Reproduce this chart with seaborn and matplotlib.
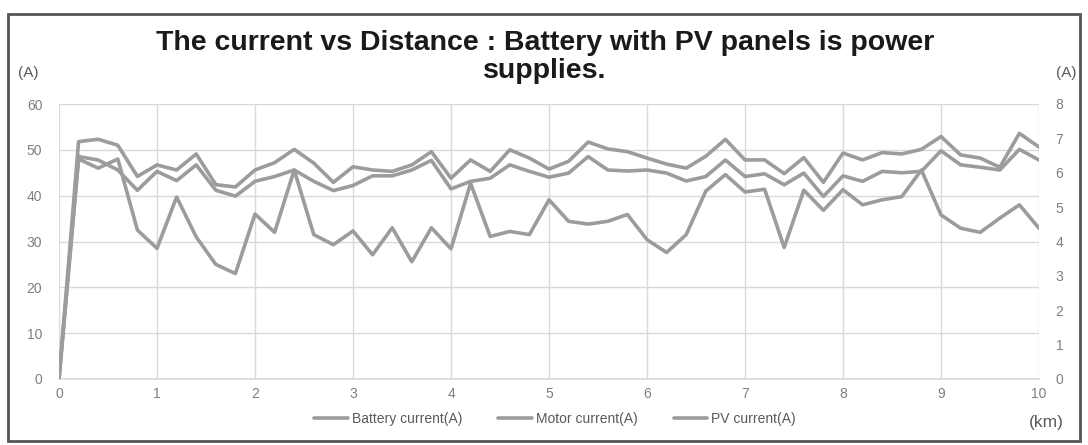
import numpy as np
import pandas as pd
import matplotlib
matplotlib.use("Agg")
import matplotlib.pyplot as plt
import seaborn as sns
from matplotlib.patches import Rectangle

# distance (km), one reading every 0.2 km
distance = [round(0.2 * i, 1) for i in range(51)]

battery_current = [0, 48.0, 46.0, 48.0, 32.5, 28.5, 39.7, 31.0, 25.0, 23.0,
                   36.0, 32.0, 45.6, 31.5, 29.3, 32.3, 27.1, 33.0, 25.6, 33.0,
                   28.4, 42.7, 31.1, 32.2, 31.5, 39.1, 34.4, 33.8, 34.4, 35.9,
                   30.4, 27.6, 31.5, 41.0, 44.6, 40.8, 41.4, 28.7, 41.2, 36.8,
                   41.3, 38.0, 39.1, 39.8, 45.6, 35.8, 32.9, 32.0, 35.1, 38.0,
                   32.9]

motor_current = [0, 51.8, 52.3, 51.0, 44.2, 46.7, 45.6, 49.1, 42.4, 41.9,
                 45.6, 47.2, 50.1, 47.1, 42.9, 46.3, 45.6, 45.3, 46.7, 49.6,
                 43.8, 47.8, 45.3, 50.0, 48.2, 45.8, 47.5, 51.7, 50.2, 49.6,
                 48.2, 46.9, 46.0, 48.6, 52.3, 47.8, 47.8, 44.8, 48.3, 42.9,
                 49.3, 47.8, 49.4, 49.1, 50.1, 52.9, 48.9, 48.2, 46.2, 53.6,
                 50.6]

# PV current is read on the right-hand axis (0-8 A)
pv_current = [0, 6.47, 6.37, 6.08, 5.49, 6.04, 5.77, 6.23, 5.49, 5.32,
              5.75, 5.89, 6.08, 5.75, 5.48, 5.63, 5.91, 5.91, 6.08, 6.36,
              5.53, 5.75, 5.84, 6.23, 6.04, 5.87, 5.99, 6.47, 6.08, 6.05,
              6.08, 5.99, 5.76, 5.89, 6.37, 5.89, 5.97, 5.65, 5.99, 5.31,
              5.91, 5.75, 6.04, 6.00, 6.04, 6.64, 6.23, 6.16, 6.08, 6.68,
              6.37]

left_ticks = [0, 10, 20, 30, 40, 50, 60]
right_ticks = [0, 1, 2, 3, 4, 5, 6, 7, 8]
x_ticks = list(range(0, 11))

df = pd.DataFrame({"km": distance, "battery": battery_current,
                   "motor": motor_current, "pv": pv_current})

sns.set_theme(style="white")
plt.rcParams["font.family"] = ["Liberation Sans", "DejaVu Sans"]

line_col = "#9c9c9c"
tick_col = "#7f7f7f"
lw = 2.6

fig = plt.figure(figsize=(10.88, 4.45), dpi=100)
ax = fig.add_axes([59 / 1088, 1 - 379 / 445, 980 / 1088, 275 / 445])
ax2 = ax.twinx()

sns.lineplot(data=df, x="km", y="battery", ax=ax, color=line_col, lw=lw,
             label="Battery current(A)", legend=False)
sns.lineplot(data=df, x="km", y="motor", ax=ax, color=line_col, lw=lw,
             label="Motor current(A)", legend=False)
sns.lineplot(data=df, x="km", y="pv", ax=ax2, color=line_col, lw=lw,
             label="PV current(A)", legend=False)

for a in (ax, ax2):
    for ln in a.get_lines():
        ln.set_solid_joinstyle("round")
        ln.set_solid_capstyle("round")

ax.set_xlim(0, 10)
ax.set_ylim(0, 60)
ax2.set_ylim(0, 8)
ax.set_xticks(x_ticks)
ax.set_yticks(left_ticks)
ax2.set_yticks(right_ticks)
ax.grid(True, color="#d9d9d9", lw=1)
ax.set_xlabel("")
ax.set_ylabel("")
ax2.set_ylabel("")

for a in (ax, ax2):
    for s in a.spines.values():
        s.set_visible(False)
    a.tick_params(length=0, colors=tick_col, labelsize=10)
ax.spines["bottom"].set_visible(True)
ax.spines["bottom"].set_color("#d9d9d9")
ax.tick_params(axis="y", pad=12)
ax2.tick_params(axis="y", pad=12)
ax.tick_params(axis="x", pad=6)

# title and unit labels
fig.text(0.501, 0.873, "The current vs Distance : Battery with PV panels is power\nsupplies.",
         ha="center", va="center", fontsize=20.5, fontweight="bold", color="#1a1a1a",
         linespacing=1.1)
fig.text(28 / 1088, 1 - 73 / 445, "(A)", ha="center", va="center", fontsize=11, color="#595959")
fig.text(1066 / 1088, 1 - 73 / 445, "(A)", ha="center", va="center", fontsize=11, color="#595959")
fig.text(1046 / 1088, 1 - 423 / 445, "(km)", ha="center", va="center", fontsize=12.5, color="#595959")

handles = ax.get_lines()[:2] + ax2.get_lines()[:1]
fig.legend(handles, [h.get_label() for h in handles], loc="center",
           bbox_to_anchor=(555 / 1088, 1 - 419 / 445), ncol=3, frameon=False,
           fontsize=10, handlelength=2.4, handletextpad=0.3, columnspacing=2.6,
           labelcolor="#595959")

# outer frame of the chart
fig.patches.append(Rectangle((8 / 1088, 4 / 445), 1072 / 1088, 427 / 445,
                             transform=fig.transFigure, fill=False,
                             edgecolor="#555555", lw=2))

fig.savefig("out.png", dpi=100)
